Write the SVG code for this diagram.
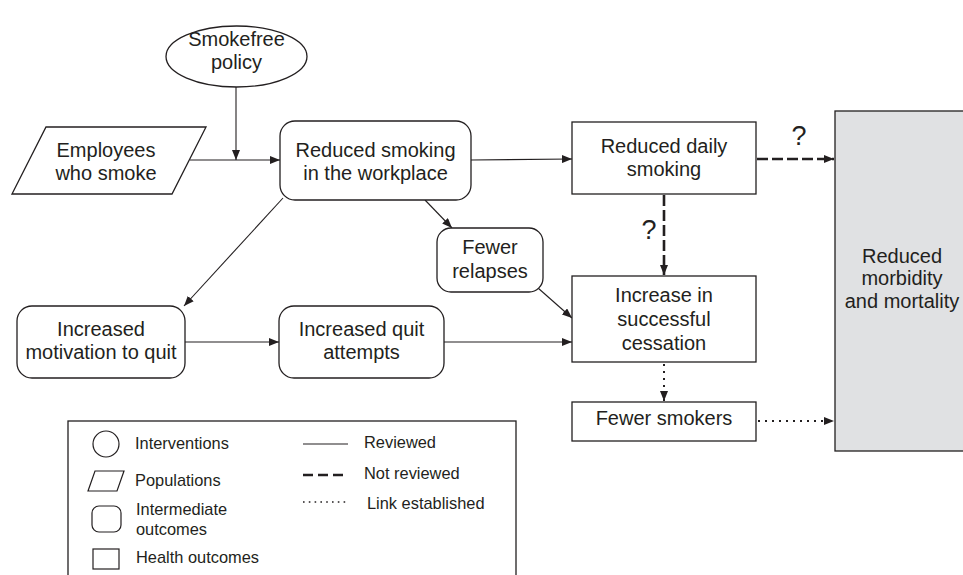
<svg xmlns="http://www.w3.org/2000/svg" width="963" height="575" viewBox="0 0 963 575">
<defs>
<style>
text{font-family:"Liberation Sans",Arial,sans-serif;fill:#231f20}
.t{font-size:20px;text-anchor:middle}
.q{font-size:27px;text-anchor:middle}
.l{font-size:16.4px}
.box{fill:#fff;stroke:#231f20;stroke-width:1.3}
.gray{fill:#e0e1e3;stroke:#231f20;stroke-width:1.3}
.c{fill:none;stroke:#231f20;stroke-width:1.1}
.dash{fill:none;stroke:#231f20;stroke-width:2.6;stroke-dasharray:11 4}
.dot{fill:none;stroke:#231f20;stroke-width:2;stroke-dasharray:2 5}
.ls{fill:none;stroke:#231f20;stroke-width:1.2}
</style>
<marker id="ah" markerUnits="userSpaceOnUse" markerWidth="11" markerHeight="8" refX="10" refY="4" orient="auto">
<path d="M0,0 L10,4 L0,8 z" fill="#231f20"/>
</marker>
</defs>
<rect width="963" height="575" fill="#fff"/>

<g id="connectors">
<line class="c" x1="236" y1="87" x2="236" y2="160" marker-end="url(#ah)"/>
<line class="c" x1="190" y1="160" x2="280" y2="160" marker-end="url(#ah)"/>
<line class="c" x1="471" y1="160" x2="572" y2="159" marker-end="url(#ah)"/>
<line class="c" x1="283" y1="198" x2="184" y2="306" marker-end="url(#ah)"/>
<line class="c" x1="425" y1="200" x2="452" y2="228" marker-end="url(#ah)"/>
<line class="c" x1="538" y1="288" x2="572" y2="318" marker-end="url(#ah)"/>
<line class="c" x1="185" y1="342" x2="279" y2="342" marker-end="url(#ah)"/>
<line class="c" x1="444" y1="342" x2="572" y2="342" marker-end="url(#ah)"/>
<line class="dash" x1="757" y1="159" x2="834" y2="159" marker-end="url(#ah)"/>
<line class="dash" x1="664" y1="195" x2="664" y2="275" marker-end="url(#ah)"/>
<line class="dot" x1="664" y1="364" x2="664" y2="401" marker-end="url(#ah)"/>
<line class="dot" x1="758" y1="421" x2="834" y2="421" marker-end="url(#ah)"/>
<text class="q" x="799" y="145">?</text>
<text class="q" x="649" y="239">?</text>
</g>

<g id="smokefree">
<ellipse class="box" cx="236.5" cy="56.5" rx="70.5" ry="30.5"/>
<text class="t" x="236.5" y="46">Smokefree</text>
<text class="t" x="236.5" y="69">policy</text>
</g>

<g id="employees">
<polygon class="box" points="46,127 206,127 172,194 12,194"/>
<text class="t" x="106" y="157">Employees</text>
<text class="t" x="106" y="180">who smoke</text>
</g>

<g id="reduced-workplace">
<rect class="box" x="280" y="121" width="191" height="79" rx="15"/>
<text class="t" x="375.5" y="157">Reduced smoking</text>
<text class="t" x="375.5" y="180">in the workplace</text>
</g>

<g id="reduced-daily">
<rect class="box" x="572" y="122" width="184" height="72"/>
<text class="t" x="664" y="153">Reduced daily</text>
<text class="t" x="664" y="176">smoking</text>
</g>

<g id="fewer-relapses">
<rect class="box" x="437" y="228" width="106" height="64" rx="14"/>
<text class="t" x="490" y="254">Fewer</text>
<text class="t" x="490" y="278">relapses</text>
</g>

<g id="motivation">
<rect class="box" x="17" y="306" width="168" height="72" rx="15"/>
<text class="t" x="101" y="336">Increased</text>
<text class="t" x="101" y="359">motivation to quit</text>
</g>

<g id="quit-attempts">
<rect class="box" x="279" y="306" width="165" height="72" rx="15"/>
<text class="t" x="361.5" y="336">Increased quit</text>
<text class="t" x="361.5" y="359">attempts</text>
</g>

<g id="cessation">
<rect class="box" x="572" y="276" width="184" height="86"/>
<text class="t" x="664" y="302">Increase in</text>
<text class="t" x="664" y="326">successful</text>
<text class="t" x="664" y="350">cessation</text>
</g>

<g id="fewer-smokers">
<rect class="box" x="572" y="402" width="184" height="39"/>
<text class="t" x="664" y="425">Fewer smokers</text>
</g>

<g id="morbidity">
<rect class="gray" x="835" y="111" width="132" height="340"/>
<text class="t" x="902" y="263">Reduced</text>
<text class="t" x="902" y="285">morbidity</text>
<text class="t" x="902" y="308">and mortality</text>
</g>

<g id="legend">
<rect class="box" x="68" y="421" width="448" height="170"/>
<circle class="ls" cx="106" cy="444" r="13"/>
<text class="l" x="135" y="449">Interventions</text>
<polygon class="ls" points="95,471 124,471 117,491 88,491"/>
<text class="l" x="135" y="486">Populations</text>
<rect class="ls" x="92" y="506" width="29" height="26" rx="7"/>
<text class="l" x="136" y="515">Intermediate</text>
<text class="l" x="136" y="535">outcomes</text>
<rect class="ls" x="93" y="549" width="26" height="20"/>
<text class="l" x="136" y="563">Health outcomes</text>
<line class="ls" x1="303" y1="444" x2="348" y2="444"/>
<text class="l" x="364" y="448">Reviewed</text>
<line fill="none" stroke="#231f20" stroke-width="2.6" stroke-dasharray="10 5" x1="303" y1="475" x2="348" y2="475"/>
<text class="l" x="364" y="479">Not reviewed</text>
<line fill="none" stroke="#231f20" stroke-width="1.6" stroke-dasharray="1.6 4.2" x1="303" y1="502" x2="348" y2="502"/>
<text class="l" x="367" y="509">Link established</text>
</g>
</svg>
